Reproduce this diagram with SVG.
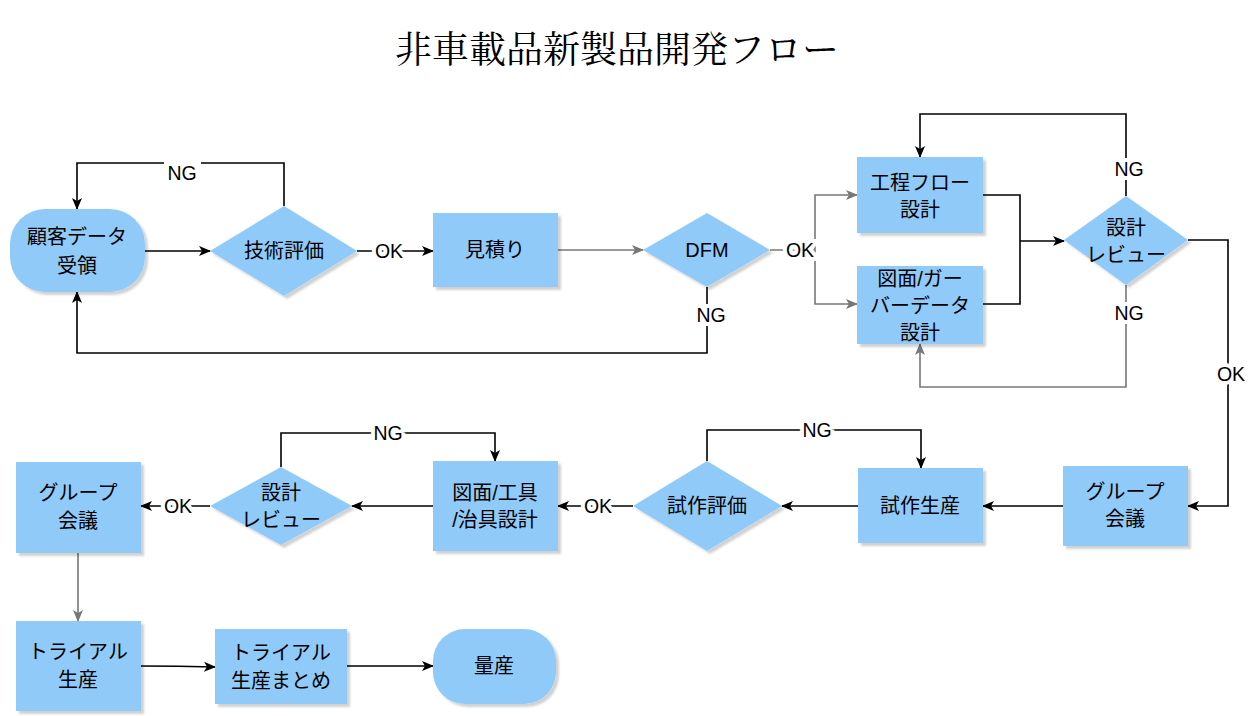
<svg xmlns="http://www.w3.org/2000/svg" width="1254" height="716" viewBox="0 0 1254 716">
<defs>
<filter id="sh" x="-10%" y="-10%" width="130%" height="130%">
<feDropShadow dx="3" dy="3" stdDeviation="1" flood-color="#000" flood-opacity="0.18"/>
</filter>
<marker id="ab" viewBox="0 0 12 12" refX="11" refY="6" markerWidth="12" markerHeight="12" markerUnits="userSpaceOnUse" orient="auto">
<path d="M0,1 L12,6 L0,11 L3,6 Z" fill="#000"/>
</marker>
<marker id="ag" viewBox="0 0 12 12" refX="11" refY="6" markerWidth="12" markerHeight="12" markerUnits="userSpaceOnUse" orient="auto">
<path d="M0,1 L12,6 L0,11 L3,6 Z" fill="#777"/>
</marker>
</defs>
<style>
.n{fill:#90CAF9;filter:url(#sh)}
.t{font-family:"Liberation Sans","Noto Sans CJK JP",sans-serif;font-size:20px;fill:#000;text-anchor:middle;dominant-baseline:central}
.l{font-family:"Liberation Sans","Noto Sans CJK JP",sans-serif;font-size:19.5px;fill:#000;text-anchor:middle;dominant-baseline:central;stroke:#fff;stroke-width:8px;paint-order:stroke}
.c{fill:none;stroke:#000;stroke-width:1.6}
.cb{fill:none;stroke:#000;stroke-width:1.6;marker-end:url(#ab)}
.cg{fill:none;stroke:#777;stroke-width:1.6;marker-end:url(#ag)}
.cgn{fill:none;stroke:#777;stroke-width:1.6}
.title{font-family:"Noto Serif CJK JP","Liberation Serif","Noto Sans CJK JP",serif;font-size:37px;fill:#000;text-anchor:middle;dominant-baseline:central}
</style>
<rect width="1254" height="716" fill="#fff"/>
<text class="title" x="617" y="47">非車載品新製品開発フロー</text>

<g id="connectors">
<!-- top row -->
<path class="cb" d="M145,251 L210,251"/>
<path class="cb" d="M284,206 L284,163 L77,163 L77,209"/>
<path class="cb" d="M357,251 L433,251"/>
<path class="cg" d="M558,250 L643,250"/>
<path class="cb" d="M707,287 L707,353 L77,353 L77,292"/>
<path class="cgn" d="M770,250 L815,250"/>
<path class="cg" d="M815,250 L815,195 L857,195"/>
<path class="cg" d="M815,250 L815,304 L857,304"/>
<path class="c" d="M983,195 L1020,195 L1020,241"/>
<path class="c" d="M983,304 L1020,304 L1020,241"/>
<path class="cb" d="M1020,241 L1064,241"/>
<path class="cb" d="M1126,196 L1126,114 L920,114 L920,157"/>
<path class="cg" d="M1126,285 L1126,387 L920,387 L920,344"/>
<path class="cb" d="M1188,240 L1228,240 L1228,506 L1188,506"/>
<!-- middle row -->
<path class="cb" d="M1063,506 L983,506"/>
<path class="cb" d="M858,506 L782,506"/>
<path class="cb" d="M707,461 L707,430 L921,430 L921,468"/>
<path class="cb" d="M633,506 L558,506"/>
<path class="cb" d="M433,506 L352,506"/>
<path class="cb" d="M281,467 L281,433 L495,433 L495,461"/>
<path class="cb" d="M210,506 L141,506"/>
<!-- bottom row -->
<path class="cg" d="M78,553 L78,621"/>
<path class="cb" d="M141,666 Q178,666 215,667"/>
<path class="cb" d="M347,666 Q390,666 433,666"/>
<!-- labels -->
<rect x="164" y="158" width="37" height="28" fill="#fff"/>
<text class="l" x="182" y="173">NG</text>
<text class="l" x="389" y="251">OK</text>
<text class="l" x="711" y="315">NG</text>
<text class="l" x="800" y="250">OK</text>
<text class="l" x="1129" y="169">NG</text>
<text class="l" x="1129" y="313">NG</text>
<text class="l" x="1231" y="374">OK</text>
<text class="l" x="817" y="430">NG</text>
<text class="l" x="598" y="506">OK</text>
<text class="l" x="388" y="433">NG</text>
<text class="l" x="178" y="506">OK</text>
</g>

<g id="n1"><rect class="n" x="10" y="209" width="135" height="83" rx="35" ry="35"/><text class="t" x="77" y="237">顧客データ</text><text class="t" x="77" y="266">受領</text></g>
<g id="n2"><polygon class="n" points="284,206 357,251 284,296 210,251"/><text class="t" x="284" y="251">技術評価</text></g>
<g id="n3"><rect class="n" x="433" y="213" width="125" height="74"/><text class="t" x="495" y="250">見積り</text></g>
<g id="n4"><polygon class="n" points="707,213 770,250 707,287 643,250"/><text class="t" x="707" y="250">DFM</text></g>
<g id="n5"><rect class="n" x="857" y="157" width="126" height="76"/><text class="t" x="920" y="183">工程フロー</text><text class="t" x="920" y="210">設計</text></g>
<g id="n6"><rect class="n" x="857" y="266" width="126" height="78"/><text class="t" x="920" y="279">図面/ガー</text><text class="t" x="920" y="306">バーデータ</text><text class="t" x="920" y="333">設計</text></g>
<g id="n7"><polygon class="n" points="1126,196 1188,240 1126,285 1064,240"/><text class="t" x="1126" y="228">設計</text><text class="t" x="1126" y="255">レビュー</text></g>
<g id="n8"><rect class="n" x="1063" y="466" width="125" height="80"/><text class="t" x="1125" y="492">グループ</text><text class="t" x="1125" y="519">会議</text></g>
<g id="n9"><rect class="n" x="858" y="468" width="125" height="75"/><text class="t" x="920" y="506">試作生産</text></g>
<g id="n10"><polygon class="n" points="707,461 782,506 707,551 633,506"/><text class="t" x="707" y="506">試作評価</text></g>
<g id="n11"><rect class="n" x="433" y="461" width="125" height="90"/><text class="t" x="495" y="493">図面/工具</text><text class="t" x="495" y="520">/治具設計</text></g>
<g id="n12"><polygon class="n" points="281,467 352,506 281,545 210,506"/><text class="t" x="281" y="493">設計</text><text class="t" x="281" y="520">レビュー</text></g>
<g id="n13"><rect class="n" x="16" y="462" width="125" height="91"/><text class="t" x="78" y="493">グループ</text><text class="t" x="78" y="521">会議</text></g>
<g id="n14"><rect class="n" x="16" y="621" width="125" height="90"/><text class="t" x="78" y="652">トライアル</text><text class="t" x="78" y="680">生産</text></g>
<g id="n15"><rect class="n" x="215" y="629" width="132" height="75"/><text class="t" x="281" y="653">トライアル</text><text class="t" x="281" y="681">生産まとめ</text></g>
<g id="n16"><rect class="n" x="433" y="629" width="123" height="75" rx="32" ry="32"/><text class="t" x="494" y="666">量産</text></g>
</svg>
